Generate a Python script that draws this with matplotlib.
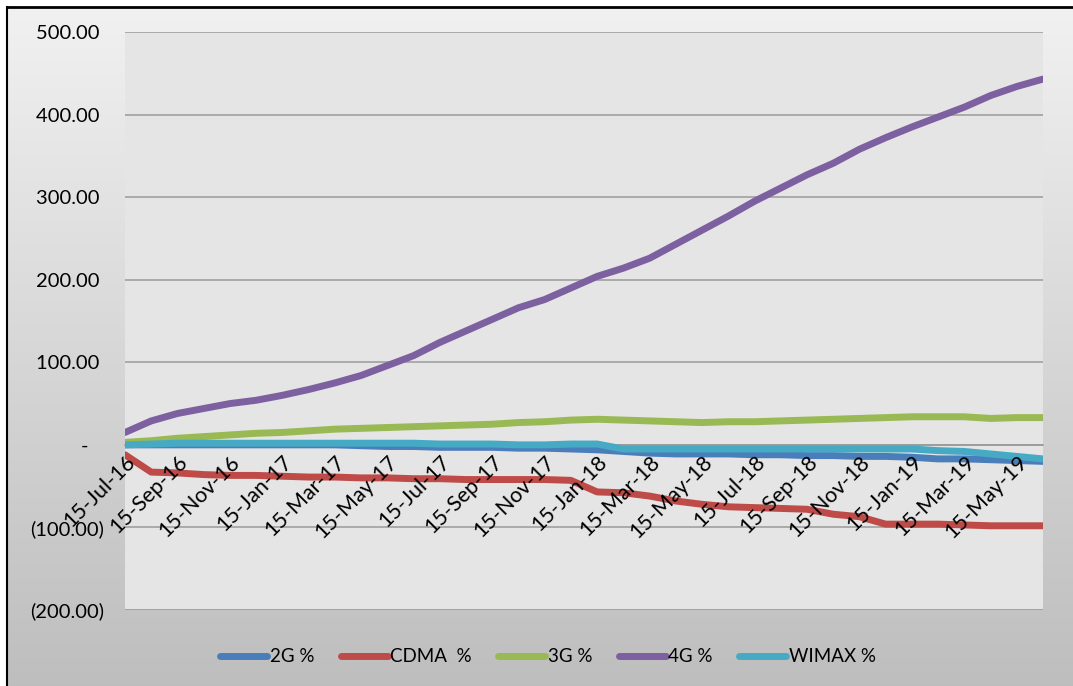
import numpy as np
import matplotlib
matplotlib.use("Agg")
import matplotlib.pyplot as plt
from matplotlib.lines import Line2D
from matplotlib.ticker import FuncFormatter

plt.rcParams["font.family"] = ["Lato", "DejaVu Sans"]

# monthly points, 15-Jul-16 .. 15-Jun-19
tick_labels = ["15-Jul-16", "15-Sep-16", "15-Nov-16", "15-Jan-17", "15-Mar-17",
               "15-May-17", "15-Jul-17", "15-Sep-17", "15-Nov-17", "15-Jan-18",
               "15-Mar-18", "15-May-18", "15-Jul-18", "15-Sep-18", "15-Nov-18",
               "15-Jan-19", "15-Mar-19", "15-May-19"]

g2 = [0, 0, 0, 0, 0, 0, 0, 0, 0, -1, -2, -2, -3, -3, -3, -4, -4, -5,
      -6, -8, -10, -11, -11, -11, -12, -12, -13, -13, -14, -14, -15, -17,
      -17, -18, -19, -20]
cdma = [-12, -33, -34, -36, -37, -37, -38, -39, -39, -40, -40, -41, -41,
        -42, -42, -42, -42, -43, -57, -58, -62, -68, -72, -75, -76, -77,
        -78, -84, -87, -96, -96, -96, -97, -98, -98, -98]
g3 = [3, 5, 8, 10, 12, 14, 15, 17, 19, 20, 21, 22, 23, 24, 25, 27, 28, 30,
      31, 30, 29, 28, 27, 28, 28, 29, 30, 31, 32, 33, 34, 34, 34, 32, 33, 33]
g4 = [15, 29, 38, 44, 50, 54, 60, 67, 75, 84, 96, 108, 124, 138, 152, 166,
      176, 190, 204, 214, 226, 243, 260, 277, 295, 311, 327, 341, 358, 372,
      385, 397, 409, 423, 434, 443]
wimax = [0, 1, 2, 2, 2, 2, 2, 2, 2, 2, 2, 2, 1, 1, 1, 0, 0, 1, 1, -5, -5,
         -5, -5, -5, -5, -5, -5, -5, -5, -5, -5, -7, -8, -11, -14, -17]

series = [("2G %", g2, "#4A7EBB"),
          ("CDMA  %", cdma, "#BE4B48"),
          ("3G %", g3, "#98B954"),
          ("4G %", g4, "#7D60A0"),
          ("WIMAX %", wimax, "#46AAC5")]

W, H = 1073, 686
fig = plt.figure(figsize=(W / 100, H / 100), dpi=100)
fig.patch.set_facecolor("white")

# gradient background inside the black frame
bg = fig.add_axes([7 / W, 0, 1 - 7 / W, 1 - 7 / H], zorder=-10)
grad = np.linspace(0.945, 0.745, 256).reshape(-1, 1)
bg.imshow(np.dstack([grad, grad, grad]), aspect="auto", extent=[0, 1, 0, 1])
bg.axis("off")
fig.add_artist(Line2D([7 / W, 1], [1 - 7 / H, 1 - 7 / H], color="black",
                      lw=2, transform=fig.transFigure))
fig.add_artist(Line2D([7 / W, 7 / W], [0, 1 - 7 / H], color="black",
                      lw=1.5, transform=fig.transFigure))

ax = fig.add_axes([125 / W, 1 - 610 / H, (1043 - 125) / W, (610 - 32) / H])
ax.set_facecolor("#E5E5E5")

# gridlines drawn by hand so the axis (and its labels) can sit above the lines
for yv in range(-200, 501, 100):
    ax.axhline(yv, color="#9A9A9A", lw=2 if yv == -200 else 1.1, zorder=0.5)

x = np.arange(len(g4))
for name, vals, col in series:
    ax.plot(x, vals, color=col, lw=5.0, label=name, zorder=2,
            solid_joinstyle="round", solid_capstyle="round")

ax.set_xlim(0, len(x) - 1)
ax.set_ylim(-200, 500)
ax.set_yticks(range(-200, 501, 100))


def acct(v, pos):
    if v > 0:
        return f"{v:,.2f} "
    if v < 0:
        return f"({-v:,.2f})"
    return "-   "


ax.yaxis.set_major_formatter(FuncFormatter(acct))
ax.set_axisbelow(False)

for s in ["top", "right", "left"]:
    ax.spines[s].set_visible(False)
ax.spines["bottom"].set_position(("data", 0))
ax.spines["bottom"].set_color("#9A9A9A")
ax.spines["bottom"].set_linewidth(1.1)
ax.spines["bottom"].set_zorder(1)

ax.set_xticks(x[::2])
ax.set_xticklabels(tick_labels, rotation=45, ha="right",
                   rotation_mode="anchor", fontsize=15.5)
ax.tick_params(axis="x", length=0, pad=5)
ax.tick_params(axis="y", length=0, pad=15, labelsize=14.5)

fig.legend(loc="center", bbox_to_anchor=(548 / W, 1 - 657 / H), ncol=5,
           frameon=False, fontsize=13.5, handlelength=2.5, handletextpad=0.15,
           columnspacing=1.4)
for line in fig.legends[0].get_lines():
    line.set_solid_capstyle("round")

fig.savefig("out.png", dpi=100)
